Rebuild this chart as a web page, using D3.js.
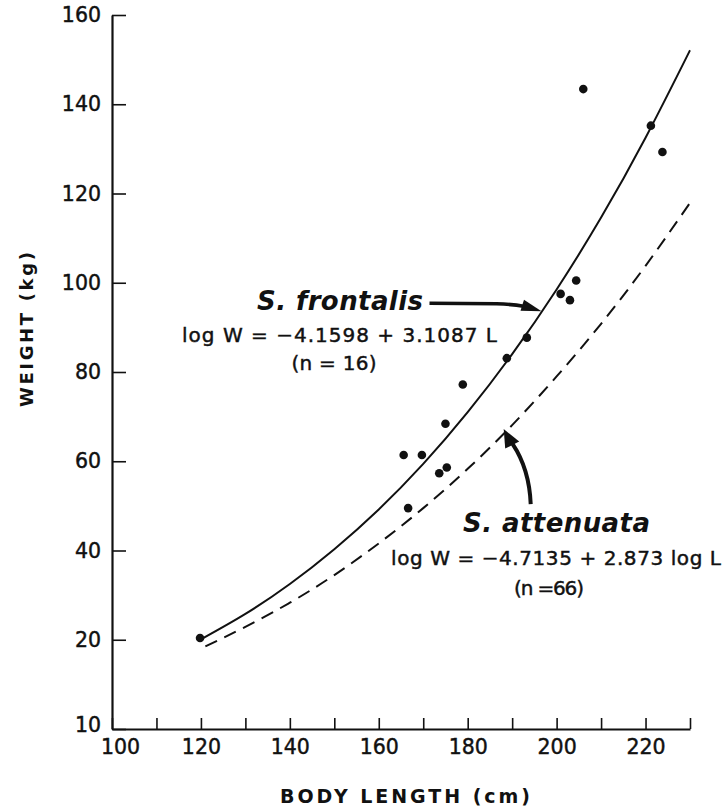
<!DOCTYPE html>
<html>
<head>
<meta charset="utf-8">
<script src="https://cdn.jsdelivr.net/npm/d3@7"></script>
<style>
body { margin: 0; background: #fff; }
svg { display: block; }
text { font-family: "DejaVu Sans", "Liberation Sans", Arial, sans-serif; fill: #111; }
.thick { stroke: #111; stroke-width: 0.45px; }
</style>
</head>
<body>
<svg width="725" height="808"></svg>
<script>
// S. frontalis specimens (body length cm, weight kg)
var frontalisLength = [119.8, 165.6, 169.7, 166.6, 173.6, 175.3, 175.0, 178.9, 188.8, 193.3, 200.9, 203.0, 204.4, 206.0, 221.2, 223.8];
var frontalisWeight = [20.4, 61.4, 61.4, 49.5, 57.3, 58.6, 68.4, 77.2, 83.1, 87.7, 97.5, 96.1, 100.5, 143.4, 135.2, 129.3];

// regression curves
var fitLength = [120, 130, 140, 150, 160, 170, 180, 190, 200, 210, 220, 230];
var frontalisFit = [20.1, 25.8, 32.5, 40.3, 49.2, 59.4, 71.0, 84.0, 98.5, 114.6, 132.5, 152.1];
var attenuataLength = [121, 130, 140, 150, 160, 170, 180, 190, 200, 210, 220, 230];
var attenuataFit = [18.5, 22.9, 28.3, 34.5, 41.6, 49.5, 58.3, 68.1, 79.0, 90.8, 103.8, 117.9];

// axis ticks
var xTicks = [100, 110, 120, 130, 140, 150, 160, 170, 180, 190, 200, 210, 220, 230];
var xLabels = [100, 120, 140, 160, 180, 200, 220];
var yTicks = [0, 20, 40, 60, 80, 100, 120, 140, 160];
var yLabels = ["10", "20", "40", "60", "80", "100", "120", "140", "160"];

var svg = d3.select("svg");

var x = d3.scaleLinear().domain([100, 230]).range([112, 690]);
var y = d3.scaleLinear().domain([0, 160]).range([729, 15]);

// Y axis, ticks pointing inward
var yAxis = svg.append("g")
    .attr("transform", "translate(" + x(100) + ",0)")
    .call(d3.axisLeft(y)
        .tickValues(yTicks)
        .tickSize(-14)
        .tickSizeOuter(0)
        .tickPadding(11)
        .tickFormat((d) => yLabels[yTicks.indexOf(d)]));

// X axis
var xAxis = svg.append("g")
    .attr("transform", "translate(0," + y(0) + ")")
    .call(d3.axisBottom(x)
        .tickValues(xTicks)
        .tickSize(-11)
        .tickSizeOuter(0)
        .tickPadding(10)
        .tickFormat((d) => xLabels.indexOf(d) >= 0 ? d : ""));

[yAxis, xAxis].forEach((g) => {
    g.select(".domain").attr("stroke", "#111").attr("stroke-width", 2.2);
    g.selectAll(".tick line").attr("stroke", "#111").attr("stroke-width", 1.6);
    g.selectAll(".tick text")
        .attr("fill", "#111")
        .attr("class", "thick")
        .style("font-size", "20.5px");
});

// "10" sits a little above the corner, "100" is pushed right of the y axis
yAxis.selectAll(".tick text").filter((d) => d === 0).attr("dy", "0.1em");
xAxis.selectAll(".tick text").filter((d) => d === 100).attr("dx", 8);

// Axis titles
svg.append("text")
    .attr("transform", "translate(33," + y(89.5) + ") rotate(-90)")
    .attr("text-anchor", "middle")
    .attr("textLength", 155)
    .attr("lengthAdjust", "spacing")
    .style("font-size", "18px")
    .style("font-weight", "bold")
    .text("WEIGHT (kg)");

svg.append("text")
    .attr("x", 405)
    .attr("y", 803)
    .attr("text-anchor", "middle")
    .attr("textLength", 250)
    .attr("lengthAdjust", "spacing")
    .style("font-size", "19px")
    .style("font-weight", "bold")
    .text("BODY LENGTH (cm)");

// Curves
var line = d3.line()
    .x((d) => x(d[0]))
    .y((d) => y(d[1]))
    .curve(d3.curveNatural);

svg.append("path")
    .datum(fitLength.map((d, i) => [d, frontalisFit[i]]))
    .attr("fill", "none")
    .attr("stroke", "#111")
    .attr("stroke-width", 2)
    .attr("d", line);

svg.append("path")
    .datum(attenuataLength.map((d, i) => [d, attenuataFit[i]]))
    .attr("fill", "none")
    .attr("stroke", "#111")
    .attr("stroke-width", 2)
    .attr("stroke-dasharray", "13,8")
    .attr("d", line);

// Specimen points
svg.append("g").selectAll("circle")
    .data(frontalisLength)
    .enter().append("circle")
    .attr("cx", (d) => x(d))
    .attr("cy", (d, i) => y(frontalisWeight[i]))
    .attr("r", 4.3)
    .attr("fill", "#111");

// Annotations
function label(txt, px, py, size, len, style, anchor) {
    svg.append("text")
        .attr("x", px)
        .attr("y", py)
        .attr("text-anchor", anchor || "start")
        .attr("textLength", len)
        .attr("lengthAdjust", "spacing")
        .attr("class", style ? null : "thick")
        .style("font-size", size + "px")
        .style("font-weight", style ? "bold" : "normal")
        .style("font-style", style ? "italic" : "normal")
        .text(txt);
}

label("S. frontalis", 257, 310, 26, 166, true);
label("log W = \u22124.1598 + 3.1087 L", 182, 341.5, 20, 315, false);
label("(n = 16)", 334, 370, 20, 85, false, "middle");

label("S. attenuata", 463, 531.5, 26, 187, true);
label("log W = \u22124.7135 + 2.873 log L", 391, 565, 20, 330, false);
label("(n =66)", 549, 595, 20, 70, false, "middle");

// frontalis arrow, tip on the solid curve
var tipF = [x(196.6), y(93.6)];
svg.append("path")
    .attr("d", "M" + (tipF[0] - 112) + "," + (tipF[1] - 8) +
        " L" + (tipF[0] - 45) + "," + (tipF[1] - 7.5) +
        " Q" + (tipF[0] - 28) + "," + (tipF[1] - 7) + " " + (tipF[0] - 18) + "," + (tipF[1] - 5))
    .attr("fill", "none")
    .attr("stroke", "#111")
    .attr("stroke-width", 3.5);
svg.append("path")
    .attr("d", "M" + tipF[0] + "," + tipF[1] +
        " L" + (tipF[0] - 21) + "," + (tipF[1] - 0.5) +
        " L" + (tipF[0] - 17.5) + "," + (tipF[1] - 11.5) + "Z")
    .attr("fill", "#111");

// attenuata arrow, tip on the dashed curve
var tipA = [x(188.1), y(67.2)];
svg.append("path")
    .attr("d", "M" + (tipA[0] + 27) + "," + (tipA[1] + 75) +
        " C" + (tipA[0] + 26) + "," + (tipA[1] + 50) + " " + (tipA[0] + 19) + "," + (tipA[1] + 30) + " " + (tipA[0] + 9) + "," + (tipA[1] + 15))
    .attr("fill", "none")
    .attr("stroke", "#111")
    .attr("stroke-width", 4);
svg.append("path")
    .attr("d", "M" + tipA[0] + "," + tipA[1] +
        " L" + (tipA[0] + 15.5) + "," + (tipA[1] + 12.5) +
        " L" + (tipA[0] + 1.5) + "," + (tipA[1] + 19.5) + "Z")
    .attr("fill", "#111");
</script>
</body>
</html>
